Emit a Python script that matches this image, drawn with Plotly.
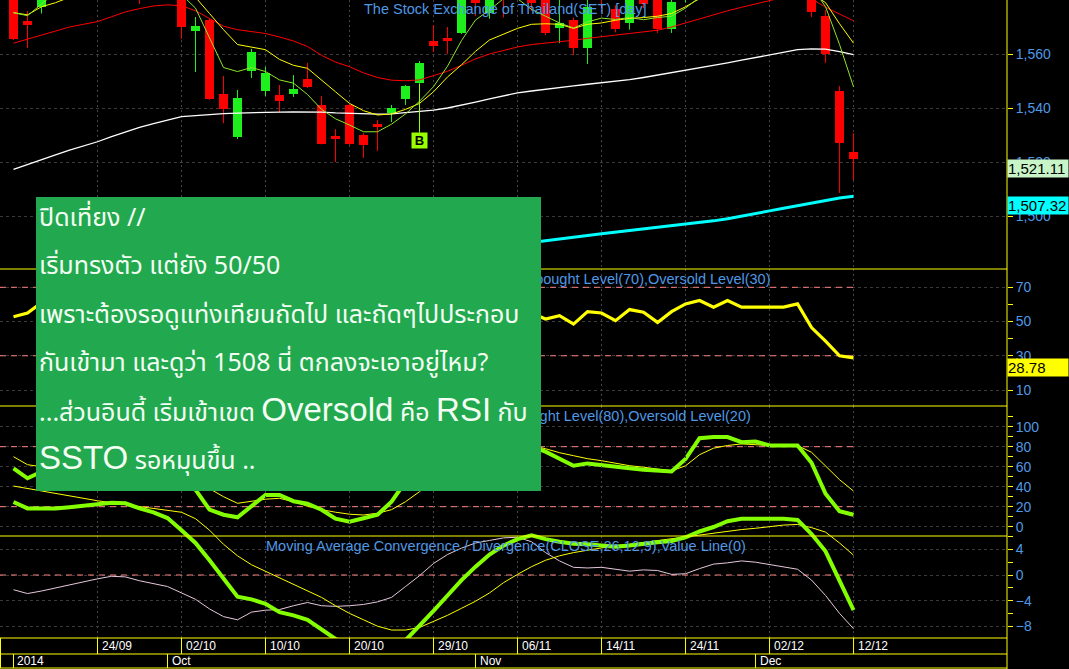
import plotly.graph_objects as go

# ---------------- data ----------------
dates = ["16/09", "17/09", "18/09", "19/09", "22/09", "23/09", "24/09", "25/09", "26/09", "29/09", "30/09",
         "01/10", "02/10", "03/10", "06/10", "07/10", "08/10", "09/10", "10/10", "13/10", "14/10", "15/10",
         "16/10", "17/10", "20/10", "21/10", "22/10", "24/10", "27/10", "28/10", "29/10", "30/10", "31/10",
         "03/11", "04/11", "05/11", "06/11", "07/11", "10/11", "11/11", "12/11", "13/11", "14/11", "17/11",
         "18/11", "19/11", "20/11", "21/11", "24/11", "25/11", "26/11", "27/11", "28/11",
         "01/12", "02/12", "03/12", "04/12", "08/12", "09/12", "11/12", "12/12"]

open_ = [1583.0, 1572.2, 1577.4, 1583.5, 1589.0, 1594.5, 1590.0, 1594.0, 1591.0, 1589.0, 1583.5,
         1590.0, 1587.0, 1568.5, 1572.6, 1545.2, 1529.3, 1553.7, 1546.3, 1544.8, 1545.2, 1550.7,
         1541.1, 1529.6, 1541.1, 1530.0, 1534.1, 1538.1, 1543.3, 1549.3, 1564.8, 1565.9, 1567.8,
         1585.0, 1575.3, 1586.0, 1582.0, 1587.0, 1585.0, 1569.6, 1572.6, 1562.2, 1584.0, 1576.7,
         1571.5, 1584.0, 1581.0, 1569.3, 1580.0, 1587.0, 1591.0, 1588.0, 1592.0,
         1589.5, 1590.0, 1589.0, 1590.5, 1590.0, 1574.0, 1546.3, 1523.7]
high = [1586.0, 1575.9, 1585.0, 1592.0, 1597.0, 1598.0, 1595.5, 1597.0, 1594.0, 1592.0, 1592.0,
        1593.0, 1589.0, 1573.7, 1573.3, 1551.9, 1546.7, 1561.9, 1555.2, 1548.5, 1552.2, 1556.7,
        1544.4, 1532.2, 1541.5, 1530.7, 1535.6, 1541.1, 1548.5, 1557.4, 1570.7, 1570.0, 1586.0,
        1587.0, 1588.0, 1589.0, 1588.0, 1589.0, 1586.0, 1582.0, 1573.5, 1581.0, 1587.0, 1578.0,
        1585.0, 1587.0, 1582.0, 1581.0, 1589.0, 1593.0, 1593.0, 1594.0, 1594.0,
        1592.0, 1592.0, 1593.0, 1594.0, 1591.0, 1576.3, 1548.1, 1530.7]
low = [1565.2, 1562.2, 1575.0, 1581.5, 1586.0, 1588.5, 1587.5, 1589.0, 1585.0, 1578.5, 1582.0,
       1584.0, 1565.6, 1553.3, 1543.0, 1534.4, 1528.5, 1551.1, 1544.4, 1538.5, 1544.1, 1547.4,
       1526.5, 1520.0, 1526.3, 1521.5, 1524.1, 1534.8, 1541.1, 1549.0, 1560.7, 1560.0, 1567.4,
       1574.0, 1573.0, 1573.5, 1580.5, 1576.0, 1567.0, 1564.0, 1559.6, 1556.3, 1577.0, 1568.0,
       1569.0, 1577.0, 1567.8, 1567.8, 1579.0, 1585.0, 1586.0, 1587.0, 1588.0,
       1587.0, 1586.0, 1586.0, 1587.0, 1573.7, 1556.7, 1508.5, 1513.3]
close = [1565.6, 1570.7, 1583.5, 1589.0, 1594.5, 1590.5, 1594.0, 1591.0, 1587.5, 1583.5, 1590.0,
         1586.0, 1570.0, 1570.4, 1543.3, 1539.6, 1543.7, 1560.7, 1553.0, 1542.6, 1547.0, 1547.8,
         1526.7, 1528.5, 1526.7, 1526.3, 1533.0, 1540.0, 1548.1, 1556.7, 1563.0, 1564.8, 1584.0,
         1579.0, 1585.0, 1582.0, 1586.0, 1579.0, 1567.8, 1571.5, 1562.2, 1577.4, 1580.5, 1569.3,
         1582.0, 1578.5, 1569.3, 1579.3, 1587.0, 1591.0, 1588.0, 1592.0, 1589.5,
         1590.0, 1589.0, 1590.5, 1591.0, 1575.6, 1560.0, 1527.0, 1521.11]

ma_fast = [1575.3, 1574.2, 1578.5, 1583.0, 1587.0, 1590.0, 1591.0, 1592.0, 1590.5, 1589.0, 1588.0,
           1586.5, 1582.0, 1577.0, 1566.0, 1555.0, 1553.5, 1555.0, 1553.5, 1550.4, 1549.2, 1545.0,
           1539.5, 1536.0, 1533.7, 1531.2, 1531.2, 1534.0, 1537.8, 1542.5, 1547.9, 1555.5, 1565.0,
           1572.6, 1576.3, 1580.5, 1580.5, 1576.5, 1574.0, 1571.5, 1569.6, 1571.9, 1573.3, 1572.8,
           1573.5, 1572.7, 1573.5, 1574.0, 1577.0, 1581.0, 1585.0, 1588.0, 1590.0,
           1590.0, 1589.5, 1589.0, 1588.0, 1585.0, 1577.5, 1563.5, 1547.8]
ma_mid = [1575.3, 1574.5, 1577.5, 1579.0, 1581.0, 1584.0, 1586.0, 1588.0, 1589.0, 1590.0, 1589.5,
          1588.5, 1586.0, 1581.0, 1575.0, 1569.0, 1563.5, 1562.5, 1561.6, 1558.0, 1555.8, 1554.7,
          1550.5, 1546.0, 1541.7, 1539.0, 1537.4, 1537.8, 1539.5, 1541.7, 1546.0, 1551.5, 1556.0,
          1561.0, 1565.2, 1567.5, 1569.5, 1571.0, 1571.2, 1571.0, 1569.5, 1571.0, 1571.5, 1572.5,
          1573.2, 1573.5, 1574.0, 1575.0, 1577.5, 1580.5, 1583.0, 1585.0, 1586.5,
          1587.5, 1588.0, 1587.5, 1586.0, 1582.5, 1579.0, 1571.2, 1564.0]
ma_slow = [1564.0, 1565.5, 1567.0, 1568.5, 1570.0, 1571.0, 1572.0, 1573.8, 1575.6, 1576.8, 1577.8,
           1578.2, 1577.9, 1576.0, 1573.0, 1570.3, 1569.0, 1568.3, 1567.6, 1566.3, 1564.8, 1562.8,
           1559.5, 1557.0, 1555.3, 1553.0, 1551.3, 1550.3, 1550.1, 1550.4, 1551.9, 1553.6, 1555.8,
           1558.2, 1560.0, 1561.3, 1562.6, 1563.5, 1564.0, 1564.6, 1565.1, 1565.8, 1566.3, 1567.0,
           1567.6, 1568.2, 1568.8, 1570.0, 1571.5, 1573.2, 1574.6, 1576.0, 1577.3,
           1578.5, 1579.8, 1581.0, 1581.5, 1580.5, 1577.3, 1574.8, 1572.3]
ma_long = [1517.3, 1519.0, 1520.8, 1522.6, 1524.4, 1526.0, 1527.5, 1529.4, 1531.2, 1532.8, 1534.2,
           1535.6, 1536.8, 1537.2, 1537.6, 1537.9, 1538.1, 1538.3, 1538.4, 1538.5, 1538.6, 1538.6,
           1538.5, 1538.2, 1538.0, 1537.8, 1537.7, 1537.8, 1538.3, 1538.8, 1539.2, 1540.0, 1541.0,
           1542.2, 1543.4, 1544.6, 1545.6, 1546.3, 1547.0, 1547.6, 1548.2, 1548.8, 1549.3, 1549.9,
           1550.5, 1551.3, 1552.2, 1553.0, 1553.8, 1554.7, 1555.7, 1556.7, 1557.7,
           1558.7, 1559.6, 1560.6, 1561.6, 1561.9, 1561.8, 1560.9, 1559.8]
ma_200 = [1470.4, 1470.9, 1471.4, 1471.9, 1472.4, 1472.9, 1473.4, 1473.9, 1474.4, 1474.9, 1475.4,
          1475.9, 1476.4, 1476.9, 1477.4, 1477.9, 1478.4, 1478.9, 1479.4, 1479.9, 1480.4, 1480.9,
          1481.4, 1481.9, 1482.4, 1482.9, 1483.4, 1483.9, 1484.5, 1485.1, 1485.7, 1486.3, 1486.9,
          1487.5, 1488.1, 1488.8, 1489.5, 1490.2, 1490.9, 1491.5, 1492.2, 1492.8, 1493.4, 1494.0,
          1494.6, 1495.1, 1495.7, 1496.3, 1496.9, 1497.5, 1498.2, 1499.0, 1499.9,
          1500.9, 1501.9, 1502.9, 1503.9, 1504.9, 1505.9, 1506.7, 1507.32]

rsi = [52.8, 55.0, 61.0, 64.0, 67.0, 63.0, 65.0, 62.0, 59.0, 56.0, 59.0,
       56.0, 46.0, 47.0, 36.0, 34.0, 40.0, 46.0, 43.0, 40.0, 42.0, 41.5,
       34.0, 35.0, 34.0, 33.5, 37.0, 40.0, 44.0, 48.0, 51.5, 52.0, 60.0,
       57.0, 60.0, 58.0, 59.0, 55.0, 51.5, 53.4, 48.5, 55.8, 55.0, 50.5,
       57.0, 55.4, 49.5, 55.8, 60.3, 62.3, 58.4, 62.3, 58.4,
       58.4, 58.4, 58.4, 60.3, 46.5, 38.5, 30.0, 28.78]
stoch_k = [58.4, 48.4, 55.0, 66.0, 76.0, 72.0, 78.0, 74.0, 64.0, 55.0, 60.0,
           52.0, 44.0, 37.0, 17.0, 12.0, 9.4, 20.0, 31.7, 31.7, 25.5, 23.0,
           17.0, 8.0, 5.0, 8.5, 12.0, 25.0, 45.0, 62.0, 76.0, 84.0, 88.0,
           86.0, 90.0, 88.0, 85.0, 80.0, 75.0, 68.0, 61.0, 63.3, 62.0, 60.0,
           58.5, 57.0, 55.8, 55.2, 67.7, 88.5, 89.6, 89.6, 84.5,
           85.2, 81.2, 81.2, 81.2, 64.0, 33.0, 15.4, 12.0]
stoch_d = [70.0, 62.0, 60.0, 62.0, 66.0, 70.0, 73.0, 74.0, 73.0, 68.0, 62.0,
           58.0, 54.0, 46.0, 38.0, 30.0, 23.4, 25.5, 27.5, 28.4, 25.0, 20.5,
           17.0, 14.5, 12.5, 11.7, 13.5, 17.0, 25.0, 35.0, 48.0, 60.0, 70.0,
           77.0, 81.0, 83.0, 82.0, 81.0, 78.0, 74.0, 71.0, 68.0, 66.0, 63.5,
           61.0, 59.5, 57.5, 55.8, 60.9, 72.0, 78.5, 81.2, 82.8,
           82.0, 81.2, 81.2, 81.2, 74.4, 61.0, 47.0, 35.6]
macd = [11.4, 10.4, 10.4, 10.4, 10.6, 10.8, 11.0, 11.3, 11.2, 10.4, 9.8,
        8.9, 7.0, 5.0, 2.3, -0.6, -3.4, -3.8, -4.5, -5.8, -6.3, -7.0,
        -8.6, -10.0, -11.0, -11.7, -12.0, -11.6, -10.2, -8.0, -5.6, -3.2, -0.8,
        1.3, 3.2, 4.6, 5.6, 6.2, 5.6, 5.2, 4.9, 4.8, 4.6, 4.4,
        4.6, 4.9, 5.1, 5.3, 5.9, 6.8, 7.5, 8.4, 8.8,
        8.8, 8.8, 8.8, 8.6, 6.4, 3.7, -0.8, -5.5]
macd_signal = [13.9, 13.5, 13.1, 12.7, 12.3, 11.9, 11.6, 11.3, 11.0, 10.7, 10.4,
               10.2, 9.8, 8.8, 7.0, 4.8, 3.0, 1.6, 0.6, -0.5, -1.5, -2.5,
               -3.5, -4.8, -6.0, -7.0, -8.0, -8.6, -8.6, -8.2, -7.3, -6.3, -5.2,
               -4.1, -2.8, -1.2, 0.1, 1.3, 2.3, 3.0, 3.5, 3.9, 4.3, 4.6,
               4.8, 5.1, 5.4, 5.7, 6.0, 6.3, 6.6, 6.8, 7.1,
               7.3, 7.6, 7.8, 7.9, 7.4, 6.7, 5.0, 3.1]
macd_hist = [-2.3, -2.9, -2.5, -2.0, -1.6, -1.0, -0.6, -0.2, -0.3, -0.9, -1.3,
             -1.8, -2.8, -3.8, -5.3, -6.5, -7.0, -5.8, -5.5, -5.4, -4.8, -4.3,
             -4.8, -4.9, -4.8, -4.6, -4.2, -3.5, -1.8, -0.1, 1.8, 3.2, 4.2,
             5.0, 5.4, 5.8, 5.9, 5.2, 3.5, 2.2, 1.2, 1.1, 1.2, 0.9,
             0.6, 0.8, 0.7, 0.1, 0.2, 1.0, 1.7, 1.9, 2.2,
             2.0, 1.6, 1.2, 0.9, -0.8, -3.2, -6.0, -8.4]

date_ticks = ["24/09", "02/10", "10/10", "20/10", "29/10", "06/11", "14/11", "24/11", "02/12", "12/12"]
year_label = "2014"
month_names = {"10": "Oct", "11": "Nov", "12": "Dec"}
rsi_levels = [70, 30]
stoch_levels = [80, 20]
macd_levels = [0]
buy_signal_date = "28/10"

title_price = "The Stock Exchange of Thailand(SET) [day]"
title_rsi = "Relative Strength Index(CLOSE,14),Overbought Level(70),Oversold Level(30)"
title_stoch = "Stochastic Oscillator(%K,%D),Overbought Level(80),Oversold Level(20)"
title_macd = "Moving Average Convergence / Divergence(CLOSE,26,12,9),Value Line(0)"

note_lines = [
    "ปิดเที่ยง //",
    "เริ่มทรงตัว แต่ยัง 50/50",
    "เพราะต้องรอดูแท่งเทียนถัดไป และถัดๆไปประกอบ",
    "กันเข้ามา และดูว่า 1508 นี่ ตกลงจะเอาอยู่ไหม?",
    "...ส่วนอินดี้ เริ่มเข้าเขต {Oversold} คือ {RSI} กับ",
    "{SSTO} รอหมุนขึ้น ..",
]

# ---------------- geometry / style ----------------
W, H = 1069, 669
PW, PH = 1007, 638
X0, X1 = -0.964, 70.96

BLUE = "#4f98e4"
YEL = "#ffff00"
GRID = "#3a3a3a"
RED = "#ff0000"
GRN = "#1ef01e"
LIME = "#84ff00"
LEVEL = "#ff8080"
BOX = "#22a84e"
THAI_FONT = "Tahoma, 'Noto Sans Thai', 'Noto Sans Thai UI', Loma, Garuda, Kinnari, Waree, Sarabun, sans-serif"


def pxp(p):
    return p / PW


def pyp(p):
    return 1 - p / PH


def xpaper(i):
    return (i - X0) / (X1 - X0)


x = list(range(len(dates)))
fig = go.Figure()

# ----- price panel -----
up = [c >= o for o, c in zip(open_, close)]
for flag, col in ((True, GRN), (False, RED)):
    wx, wy = [], []
    for i in x:
        if up[i] == flag:
            wx += [i, i, None]
            wy += [low[i], high[i], None]
    fig.add_trace(go.Scatter(x=wx, y=wy, mode="lines", line=dict(color=col, width=1),
                             xaxis="x", yaxis="y", hoverinfo="skip"))
fig.add_trace(go.Bar(x=x, y=[max(abs(c - o), 0.35) for o, c in zip(open_, close)],
                     base=[min(o, c) for o, c in zip(open_, close)], width=0.62,
                     marker=dict(color=[GRN if u else RED for u in up], line=dict(width=0)),
                     xaxis="x", yaxis="y"))
for arr, col, wd in ((ma_long, "#ffffff", 1.3), (ma_slow, RED, 1), (ma_mid, YEL, 1),
                     (ma_fast, "#8ee62a", 1), (ma_200, "#00ffff", 3)):
    fig.add_trace(go.Scatter(x=x, y=arr, mode="lines", line=dict(color=col, width=wd),
                             xaxis="x", yaxis="y"))

last_i = x[-1]
# ----- RSI -----
for lv in rsi_levels:
    fig.add_trace(go.Scatter(x=[X0, last_i], y=[lv, lv], mode="lines",
                             line=dict(color=LEVEL, width=1, dash="6px,5px"), xaxis="x", yaxis="y2"))
fig.add_trace(go.Scatter(x=x, y=rsi, mode="lines", line=dict(color=YEL, width=3.2), xaxis="x", yaxis="y2"))

# ----- Stochastic -----
for lv in stoch_levels:
    fig.add_trace(go.Scatter(x=[X0, last_i], y=[lv, lv], mode="lines",
                             line=dict(color=LEVEL, width=1, dash="6px,5px"), xaxis="x", yaxis="y3"))
fig.add_trace(go.Scatter(x=x, y=stoch_d, mode="lines", line=dict(color=YEL, width=1), xaxis="x", yaxis="y3"))
fig.add_trace(go.Scatter(x=x, y=stoch_k, mode="lines", line=dict(color=LIME, width=4), xaxis="x", yaxis="y3"))

# ----- MACD -----
for lv in macd_levels:
    fig.add_trace(go.Scatter(x=[X0, last_i], y=[lv, lv], mode="lines",
                             line=dict(color=LEVEL, width=1, dash="6px,5px"), xaxis="x", yaxis="y4"))
fig.add_trace(go.Scatter(x=x, y=macd_hist, mode="lines", line=dict(color="#e6c8dc", width=1), xaxis="x", yaxis="y4"))
fig.add_trace(go.Scatter(x=x, y=macd_signal, mode="lines", line=dict(color=YEL, width=1), xaxis="x", yaxis="y4"))
fig.add_trace(go.Scatter(x=x, y=macd, mode="lines", line=dict(color=LIME, width=4), xaxis="x", yaxis="y4"))

# ----- axes -----
tick_idx = [dates.index(d) for d in date_ticks]
axis_common = dict(side="right", anchor="x", ticks="outside", ticklen=5, tickcolor=YEL, tickwidth=1,
                   tickfont=dict(color=BLUE, size=14, family="Arial"), showgrid=True, gridcolor=GRID,
                   griddash="3px,3px", gridwidth=1, zeroline=False, showline=False, fixedrange=True)

fig.update_layout(
    width=W, height=H,
    margin=dict(l=0, r=W - PW, t=0, b=H - PH, pad=0),
    paper_bgcolor="#000000", plot_bgcolor="rgba(0,0,0,0)",
    showlegend=False, bargap=0,
    xaxis=dict(range=[X0, X1], domain=[0, 1], tickvals=tick_idx, showticklabels=False, ticks="",
               showgrid=True, gridcolor="#454545", griddash="2px,3px", zeroline=False, showline=False,
               fixedrange=True),
    yaxis=dict(domain=[pyp(269), 1], range=[1580 - 269 / 2.7, 1580],
               tickvals=[1500, 1520, 1540, 1560], tickformat=",d", **axis_common),
    yaxis2=dict(domain=[pyp(406), pyp(269)], range=[70 - (406 - 287.3) / 1.712, 70 + 18.3 / 1.712],
                tickvals=[10, 30, 50, 70],
                minor=dict(tickvals=[20, 40, 60], ticklen=5, tickcolor=YEL, ticks="outside", showgrid=False),
                **axis_common),
    yaxis3=dict(domain=[pyp(536), pyp(406)], range=[-9.3, 120.7],
                tickvals=[0, 20, 40, 60, 80, 100],
                minor=dict(tickvals=[10, 30, 50, 70, 90, 110], ticklen=5, tickcolor=YEL, ticks="outside",
                           showgrid=False),
                **axis_common),
    yaxis4=dict(domain=[0, pyp(406)], range=[-63 / 6.4, 169 / 6.4],
                tickvals=[-8, -4, 0, 4],
                minor=dict(tickvals=[-6, -2, 2, 6], ticklen=5, tickcolor=YEL, ticks="outside", showgrid=False),
                **axis_common),
)

# ----- frame lines -----
shapes = []
for yp in (269, 406, 536, 638, 654, 668):
    shapes.append(dict(type="line", xref="paper", yref="paper", x0=0, x1=1, y0=pyp(yp), y1=pyp(yp),
                       line=dict(color=YEL, width=1), layer="above"))
shapes.append(dict(type="line", xref="paper", yref="paper", x0=1, x1=1, y0=pyp(669), y1=1,
                   line=dict(color=YEL, width=1), layer="above"))
shapes.append(dict(type="line", xref="paper", yref="paper", x0=pxp(0.5), x1=pxp(0.5), y0=pyp(668), y1=pyp(638),
                   line=dict(color=YEL, width=1), layer="above"))
for i in tick_idx:
    shapes.append(dict(type="line", xref="paper", yref="paper", x0=xpaper(i), x1=xpaper(i),
                       y0=pyp(654), y1=pyp(638), line=dict(color=YEL, width=1), layer="above"))
month_starts = [0] + [i for i in range(1, len(dates)) if dates[i][3:] != dates[i - 1][3:]]
for i in month_starts:
    shapes.append(dict(type="line", xref="paper", yref="paper", x0=xpaper(i), x1=xpaper(i),
                       y0=pyp(668), y1=pyp(654), line=dict(color=YEL, width=1), layer="above"))
fig.update_layout(shapes=shapes)

ann = []
for i, d in zip(tick_idx, date_ticks):
    ann.append(dict(xref="paper", yref="paper", x=xpaper(i) + pxp(2), y=pyp(646), xanchor="left",
                    yanchor="middle", text=d, showarrow=False, font=dict(color="#ffffff", size=12, family="Arial")))
for k, i in enumerate(month_starts):
    lab = year_label if k == 0 else month_names[dates[i][3:]]
    ann.append(dict(xref="paper", yref="paper", x=xpaper(i) + pxp(2), y=pyp(661), xanchor="left",
                    yanchor="middle", text=lab, showarrow=False, font=dict(color="#ffffff", size=12, family="Arial")))

# panel titles
ann.append(dict(xref="paper", yref="paper", x=pxp(362), y=pyp(9), xanchor="left", yanchor="middle",
                text=title_price, showarrow=False, font=dict(color=BLUE, size=14.5, family="Arial")))
ann.append(dict(xref="paper", yref="paper", x=pxp(773), y=pyp(279), xanchor="right", yanchor="middle",
                text=title_rsi, showarrow=False, font=dict(color=BLUE, size=14.5, family="Arial")))
ann.append(dict(xref="paper", yref="paper", x=pxp(753), y=pyp(415.5), xanchor="right", yanchor="middle",
                text=title_stoch, showarrow=False, font=dict(color=BLUE, size=14.5, family="Arial")))
ann.append(dict(xref="paper", yref="paper", x=pxp(264), y=pyp(546), xanchor="left", yanchor="middle",
                text=title_macd, showarrow=False, font=dict(color=BLUE, size=14.5, family="Arial")))

# buy signal marker
bi = dates.index(buy_signal_date)
ann.append(dict(xref="x", yref="y", x=bi, y=low[bi], ax=0, ay=57, showarrow=True, arrowhead=0,
                arrowwidth=1, arrowcolor="#99ff00", text="<b>B</b>", bgcolor="#99ff00",
                font=dict(color="#000000", size=13, family="Arial"), width=13, height=13, borderpad=1))

# last-value labels
ann.append(dict(xref="paper", yref="y", x=1, y=close[-1], xanchor="left", yanchor="top",
                text=f"{close[-1]:,.2f}", showarrow=False, bgcolor="#c8f5c8", width=60, align="left",
                borderpad=0, font=dict(color="#000000", size=15, family="Arial")))
ann.append(dict(xref="paper", yref="y", x=1, y=ma_200[-1], xanchor="left", yanchor="top",
                text=f"{ma_200[-1]:,.2f}", showarrow=False, bgcolor="#00ffff", width=60, align="left",
                borderpad=0, font=dict(color="#000000", size=15, family="Arial")))
ann.append(dict(xref="paper", yref="y2", x=1, y=rsi[-1], xanchor="left", yanchor="top",
                text=f"{rsi[-1]:.2f}", showarrow=False, bgcolor="#ffff00", width=60, align="left",
                borderpad=0, font=dict(color="#000000", size=15, family="Arial")))

# note box (covers part of the chart)
ann.append(dict(xref="paper", yref="paper", x=pxp(36), y=pyp(197), xanchor="left", yanchor="top",
                text=" ", showarrow=False, width=505, height=294, bgcolor=BOX, borderpad=0, borderwidth=0))
big = "<span style='font-family:Arial;font-size:33px'>{}</span>"
line_y = [218, 266, 315, 363, 411, 459]
for txt, yy in zip(note_lines, line_y):
    parts, seg = [], ""
    for ch in txt:
        if ch == "{":
            parts.append((seg, False)); seg = ""
        elif ch == "}":
            parts.append((seg, True)); seg = ""
        else:
            seg += ch
    parts.append((seg, False))
    html = "".join(big.format(s) if b else s for s, b in parts)
    ann.append(dict(xref="paper", yref="paper", x=pxp(37), y=pyp(yy), xanchor="left", yanchor="middle",
                    text=html, showarrow=False, font=dict(color="#f4fff4", size=25, family=THAI_FONT)))

fig.update_layout(annotations=ann)
fig.write_html("out.html", config={"displayModeBar": False},
               post_script="document.body.style.margin='0';document.body.style.overflow='hidden';")
